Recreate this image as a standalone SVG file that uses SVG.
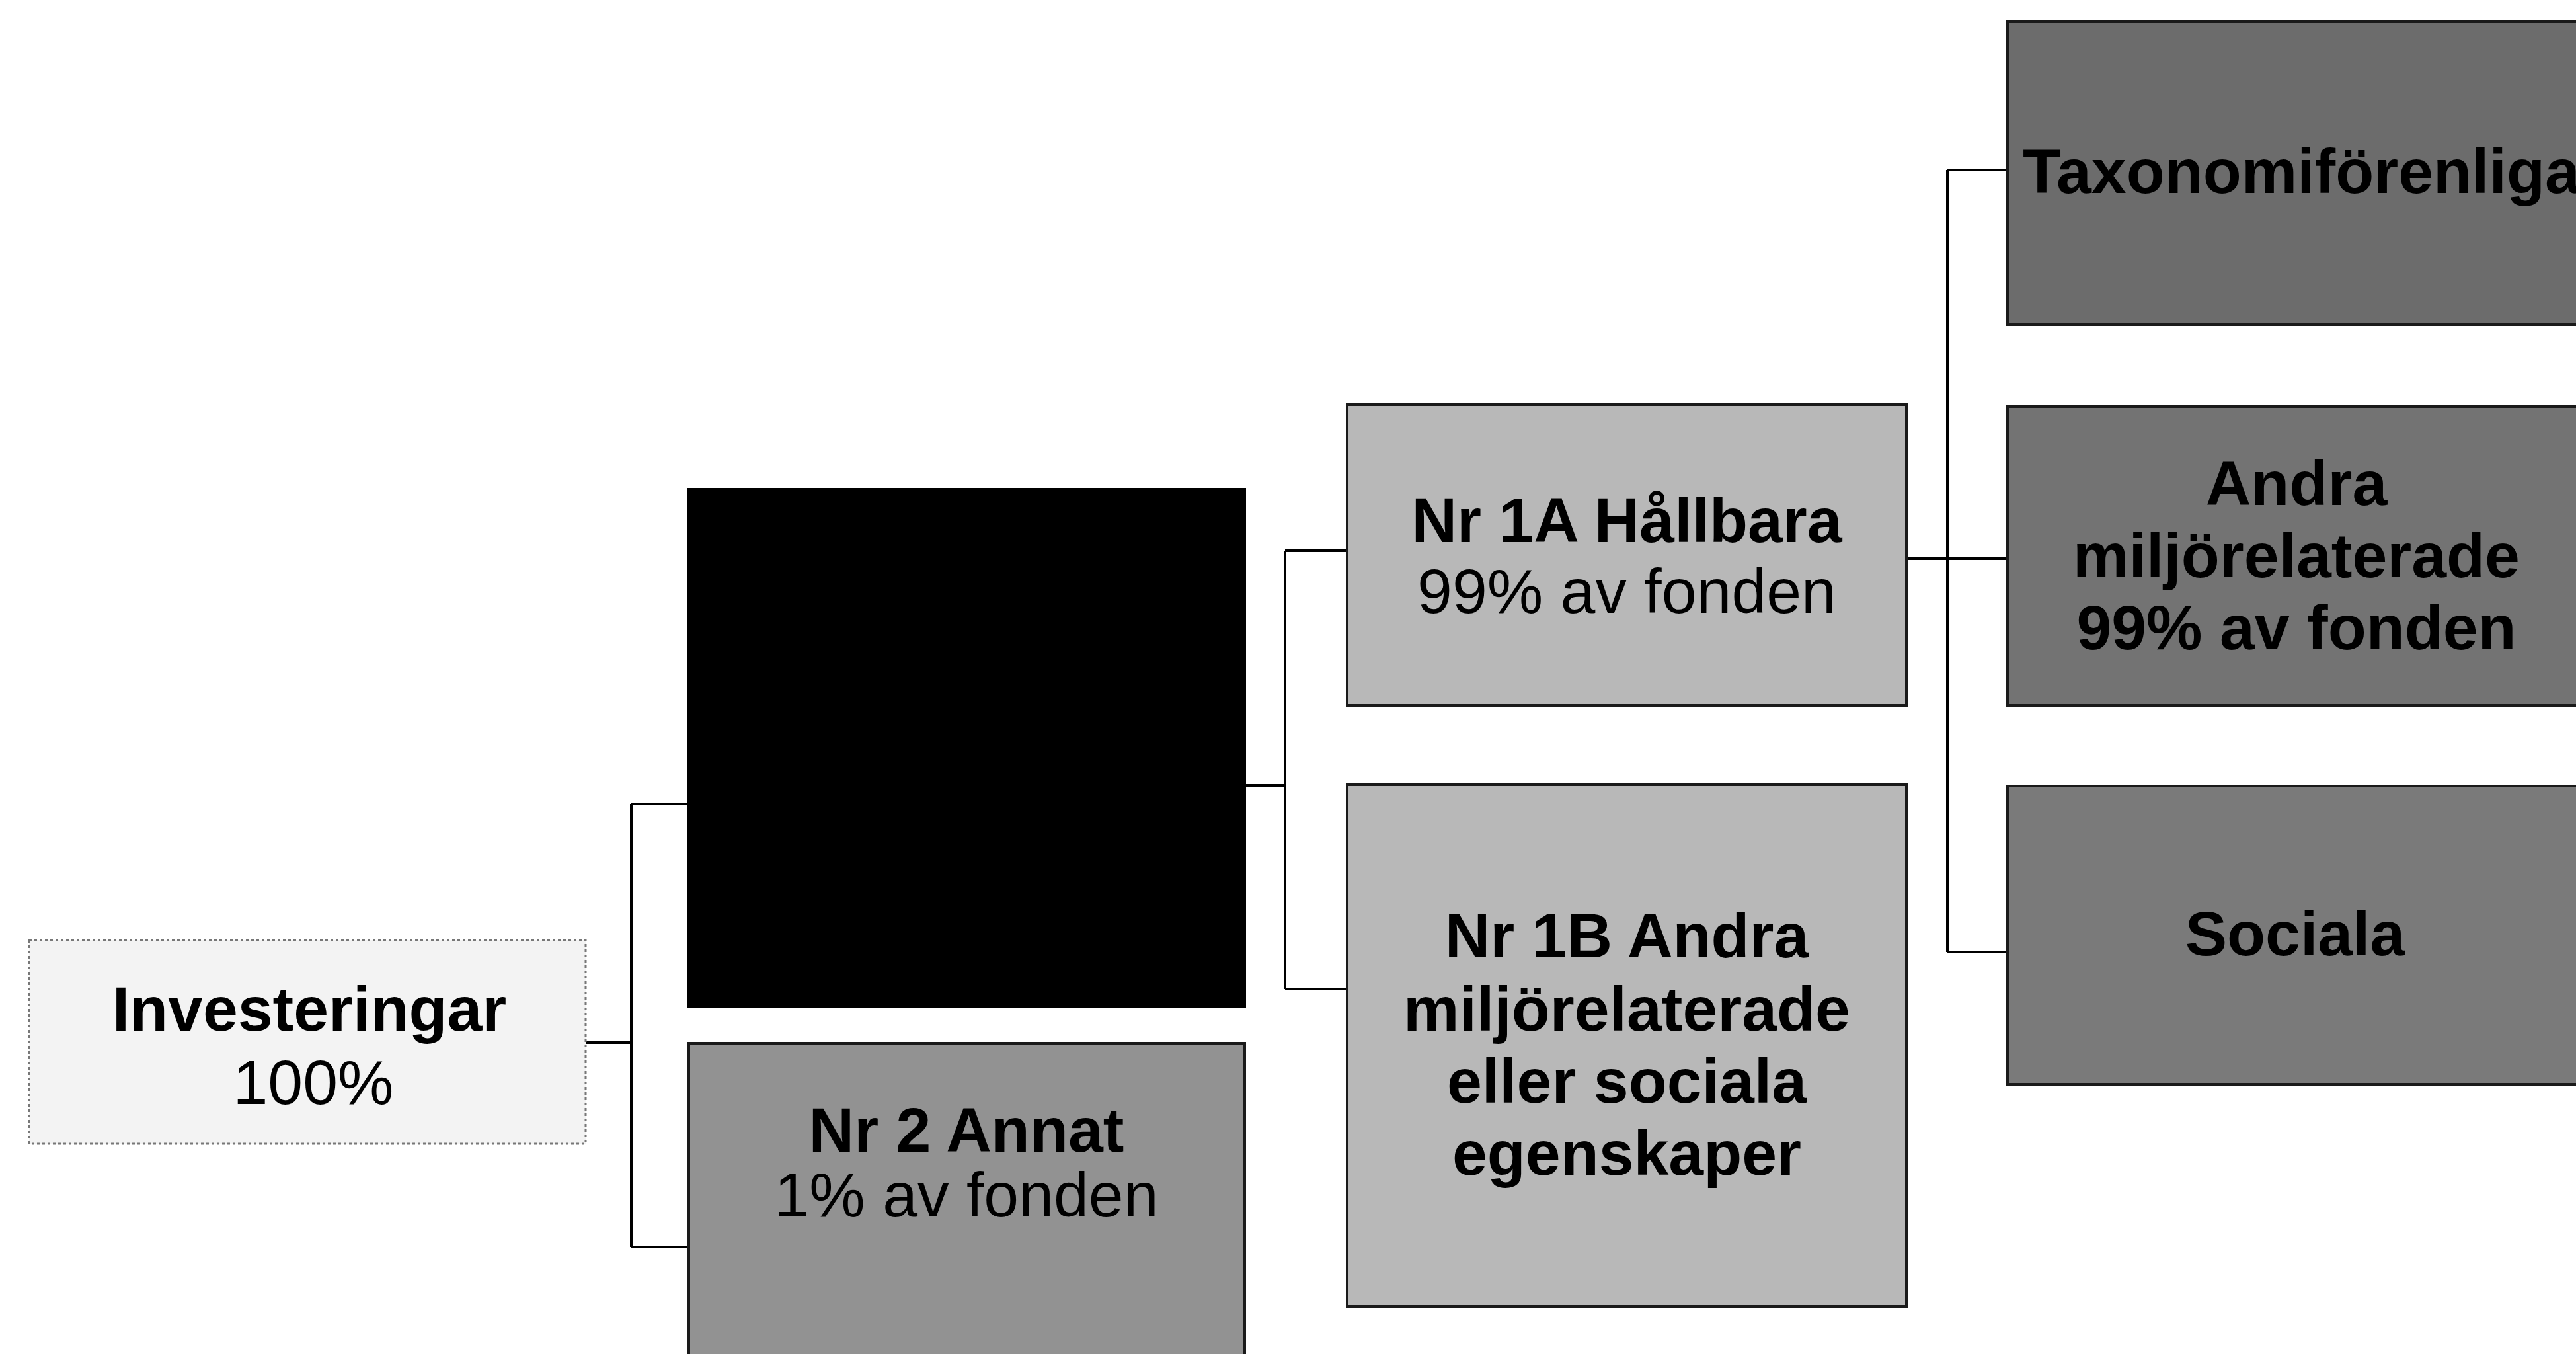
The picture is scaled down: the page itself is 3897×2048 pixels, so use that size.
<svg xmlns="http://www.w3.org/2000/svg" width="3897" height="2048" viewBox="0 0 3897 2048">
<style>
.t{font-family:"Liberation Sans",Arial,sans-serif;font-size:95px;fill:#000;text-anchor:middle}
.b{font-weight:bold}
.box{stroke:#1a1a1a;stroke-width:4}
.conn{fill:none;stroke:#000;stroke-width:4}
</style>
<rect width="3897" height="2048" fill="#fff"/>
<g id="connectors">
<path class="conn" d="M886,1577 H955 M955,1216 V1886 M955,1216 H1042 M955,1886 H1042"/>
<path class="conn" d="M1883,1188 H1944 M1944,833 V1496 M1944,833 H2038 M1944,1496 H2038"/>
<path class="conn" d="M2884,845 H3037 M2946,257 V1440 M2946,257 H3037 M2946,1440 H3037"/>
</g>
<g id="investeringar">
<rect x="44" y="1422" width="842" height="308" fill="#f3f3f3" stroke="#777" stroke-width="3" stroke-dasharray="4 4"/>
<text class="t b" x="468" y="1559">Investeringar</text>
<text class="t" x="474" y="1670">100%</text>
</g>
<g id="nr1">
<rect x="1042" y="740" width="841" height="782" fill="#000" stroke="#000" stroke-width="4"/>
</g>
<g id="nr2">
<rect class="box" x="1042" y="1578" width="841" height="520" fill="#929292"/>
<text class="t b" x="1462" y="1742">Nr 2 Annat</text>
<text class="t" x="1462" y="1840">1% av fonden</text>
</g>
<g id="nr1a">
<rect class="box" x="2038" y="612" width="846" height="455" fill="#b8b8b8"/>
<text class="t b" x="2461" y="820">Nr 1A Hållbara</text>
<text class="t" x="2461" y="927">99% av fonden</text>
</g>
<g id="nr1b">
<rect class="box" x="2038" y="1187" width="846" height="789" fill="#b8b8b8"/>
<text class="t b" x="2461" y="1448">Nr 1B Andra</text>
<text class="t b" x="2461" y="1559">miljörelaterade</text>
<text class="t b" x="2461" y="1668">eller sociala</text>
<text class="t b" x="2461" y="1777">egenskaper</text>
</g>
<g id="taxonomi">
<rect class="box" x="3037" y="33" width="900" height="458" fill="#6c6c6c"/>
<text class="t b" x="3060" y="292" style="text-anchor:start">Taxonomiförenliga</text>
</g>
<g id="andra">
<rect class="box" x="3037" y="615" width="900" height="452" fill="#737373"/>
<text class="t b" x="3474" y="764">Andra</text>
<text class="t b" x="3474" y="873">miljörelaterade</text>
<text class="t b" x="3474" y="982">99% av fonden</text>
</g>
<g id="sociala">
<rect class="box" x="3037" y="1189" width="900" height="451" fill="#7a7a7a"/>
<text class="t b" x="3472" y="1445">Sociala</text>
</g>
</svg>
